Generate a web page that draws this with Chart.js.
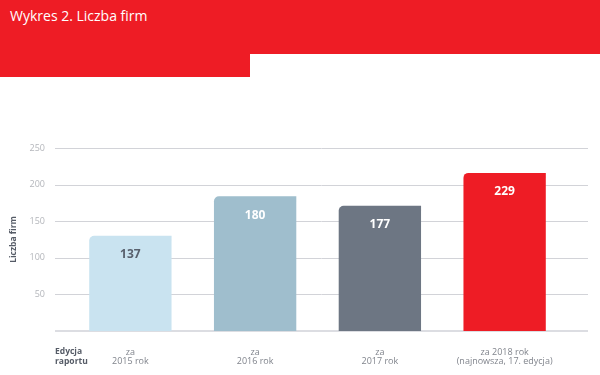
<!DOCTYPE html>
<html>
<head>
<meta charset="utf-8">
<script src="https://cdn.jsdelivr.net/npm/chart.js@4"></script>
<style>
  html, body { margin: 0; padding: 0; background: #fff; }
  #wrap { position: relative; width: 600px; height: 375px; overflow: hidden; }
  .red { position: absolute; background: #ee1c25; }
  #title { position: absolute; left: 10px; top: 6px; color: #fff; font: 14px "Open Sans", sans-serif; }
  canvas { position: absolute; left: 0; top: 0; }
</style>
</head>
<body>
<div id="wrap">
  <div class="red" style="left:0;top:0;width:600px;height:54px"></div>
  <div class="red" style="left:0;top:0;width:250px;height:77px"></div>
  <div id="title">Wykres 2. Liczba firm</div>
  <canvas id="chart" width="600" height="375"></canvas>
</div>
<script>
// Categories (two-line labels)
const editions = [['za', '2015 rok'], ['za', '2016 rok'], ['za', '2017 rok'], ['za 2018 rok', '(najnowsza, 17. edycja)']];
// Bar heights as drawn in the picture
const barHeights = [130, 184, 171, 216];
// Values printed on the bars
const printedValues = [137, 180, 177, 229];
const yTicks = [50, 100, 150, 200, 250];

const barColors = ['#c9e3f0', '#9fbecd', '#6d7683', '#ee1c25'];
const labelColors = ['#59616e', '#ffffff', '#ffffff', '#ffffff'];

// Grid lines wider than the plot area, plus the "Edycja raportu" caption
const extrasPlugin = {
    id: 'extras',
    beforeDatasetsDraw(chart) {
        const ctx = chart.ctx;
        const y = chart.scales.y;
        ctx.save();
        ctx.strokeStyle = '#d2d3d8';
        ctx.lineWidth = 1;
        yTicks.forEach(function(v) {
            const py = Math.round(y.getPixelForValue(v)) + 0.5;
            ctx.beginPath();
            ctx.moveTo(55, py);
            ctx.lineTo(588, py);
            ctx.stroke();
        });
        ctx.strokeStyle = '#dcdde2';
        ctx.lineWidth = 2;
        const p0 = Math.round(y.getPixelForValue(0));
        ctx.beginPath();
        ctx.moveTo(55, p0);
        ctx.lineTo(588, p0);
        ctx.stroke();
        ctx.restore();
    },
    afterDatasetsDraw(chart) {
        const ctx = chart.ctx;
        const meta = chart.getDatasetMeta(0);
        ctx.save();
        ctx.font = 'bold 12px "Open Sans", sans-serif';
        ctx.textAlign = 'center';
        ctx.textBaseline = 'middle';
        meta.data.forEach(function(bar, i) {
            ctx.fillStyle = labelColors[i];
            ctx.fillText(printedValues[i], bar.x, bar.y + 19);
        });
        const x = chart.scales.x;
        ctx.font = 'bold 8.5px "Open Sans", sans-serif';
        ctx.textAlign = 'left';
        ctx.fillStyle = '#555b66';
        ctx.fillText('Edycja', 55, x.top + 20.5);
        ctx.fillText('raportu', 55, x.top + 30.5);
        ctx.restore();
    }
};

const ctx = document.getElementById('chart').getContext('2d');
const chart = new Chart(ctx, {
    type: 'bar',
    data: {
        labels: editions,
        datasets: [{
            data: barHeights,
            backgroundColor: barColors,
            borderRadius: { topLeft: 5, topRight: 0, bottomLeft: 0, bottomRight: 0 },
            borderSkipped: false,
            barPercentage: 0.66,
            categoryPercentage: 1
        }]
    },
    options: {
        responsive: false,
        animation: false,
        layout: { padding: { top: 148, right: 33, left: 0, bottom: 0 } },
        plugins: { legend: { display: false }, tooltip: { enabled: false } },
        scales: {
            x: {
                grid: { display: false, drawTicks: false },
                border: { display: false },
                ticks: {
                    color: '#80848c',
                    font: { family: 'Open Sans', size: 9, lineHeight: 1.1 },
                    padding: 16,
                    maxRotation: 0,
                    autoSkip: false
                },
                afterFit(scale) { scale.height = 44; }
            },
            y: {
                min: 0,
                max: 250,
                grid: { display: false, drawTicks: false },
                border: { display: false },
                ticks: {
                    stepSize: 50,
                    color: '#b4b6bb',
                    font: { family: 'Open Sans', size: 9 },
                    padding: 23,
                    callback: function(v) { return v === 0 ? '' : v; }
                },
                title: {
                    display: true,
                    text: 'Liczba firm',
                    color: '#555b66',
                    font: { family: 'Open Sans', size: 8.5, weight: 'bold' },
                    padding: { top: 8, bottom: 0 }
                },
                afterFit(scale) { scale.width = 68; }
            }
        }
    },
    plugins: [extrasPlugin]
});
</script>
</body>
</html>
